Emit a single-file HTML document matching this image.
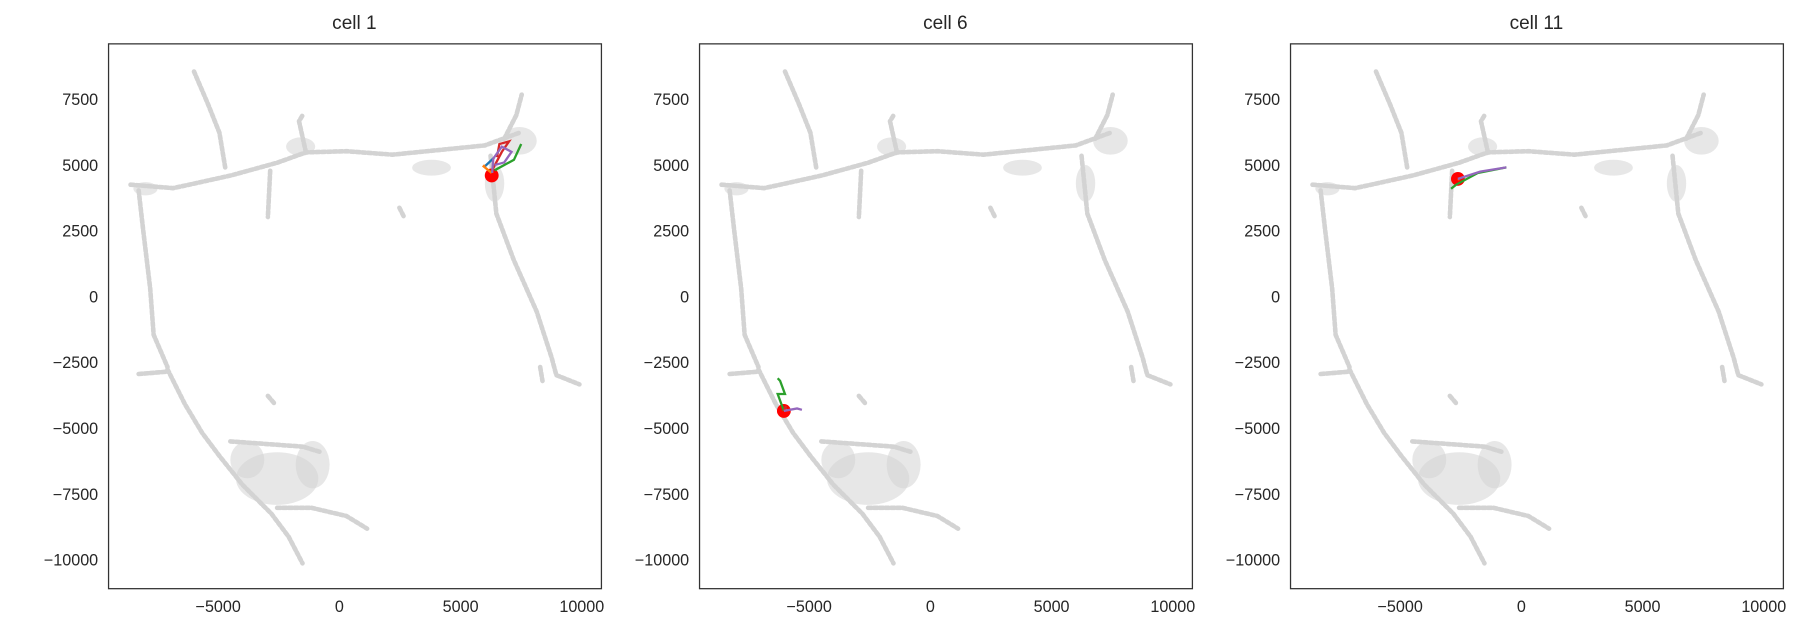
<!DOCTYPE html>
<html><head><meta charset="utf-8"><style>
body{margin:0;background:#fff;}
text{font-family:"Liberation Sans","DejaVu Sans",sans-serif;fill:#262626;}
</style></head><body>
<svg id="chart" width="1810" height="636" viewBox="0 0 1568 551" xmlns="http://www.w3.org/2000/svg"></svg>
<script>
// background embedding skeleton (data units)
const branchTop=[[-8616,4254],[-6854,4123],[-4474,4605],[-2570,5088],[-1380,5482],[286,5526],[2190,5395],[4094,5570],[5998,5746],[7426,6228]];
const branchUpRight=[[6800,6000],[7300,6900],[7521,7676]];
const branchY=[[-1380,5482],[-1666,6667],[-1523,6886]];
const branchUpLeft=[[-4712,4912],[-4950,6228],[-5426,7325],[-5998,8553]];
const branchSmallDown=[[-2856,4781],[-2951,3026]];
const branchRight=[[6236,5351],[6474,3158],[7188,1404],[8140,-570],[8758,-2325],[8949,-2983],[9901,-3333]];
const branchRightTip=[[8282,-2675],[8378,-3202]];
const branchLeft=[[-8282,4035],[-8092,2500],[-7806,307],[-7664,-1447],[-7092,-2675]];
const branchLeftTip=[[-8282,-2939],[-7092,-2850]];
const branchDown=[[-7092,-2763],[-6378,-4079],[-5664,-5175],[-4950,-6053],[-3998,-7149],[-2808,-8246],[-2094,-9123],[-1523,-10132]];
const branchBottomRight=[[-2570,-8026],[-1142,-8026],[286,-8334],[1142,-8816]];
const branchBottomUp=[[-4500,-5500],[-3000,-5600],[-1500,-5700],[-800,-5900]];
const branchIso1=[[-2951,-3772],[-2666,-4079]];
const branchIso2=[[2475,3377],[2666,3026]];
const branches=[branchTop,branchUpRight,branchY,branchUpLeft,branchSmallDown,branchRight,branchRightTip,branchLeft,branchLeftTip,branchDown,branchBottomRight,branchBottomUp,branchIso1,branchIso2];
// dense clusters: [cx, cy, rx, ry] in data units
const clusters=[[7426,5921,714,526],[-2570,-6911,1700,1000],[-1104,-6384,700,900],[-3800,-6200,700,700],[6400,4300,400,700],[-1600,5700,600,350],[-8000,4100,500,250],[3800,4900,800,300]];
const titles=["cell 1","cell 6","cell 11"];
const starts=[[6283,4605],[-6045,-4342],[-2618,4474]];
const trajColors=["#1f77b4","#ff7f0e","#2ca02c","#d62728","#9467bd"];
const traj=[
 [[[6000,4950],[6400,5300]],[[6000,5000],[5950,4950],[6283,4700]],[[6400,4800],[7200,5200],[7500,5800]],[[6300,4800],[6700,5500],[7000,5900],[6600,5800],[6500,5300]],[[6300,4700],[6350,5250],[6700,5700],[7100,5500],[6800,5100],[6400,5000]]],
 [[[-6045,-4342],[-5900,-4300]],[[-6045,-4342],[-5950,-4250]],[[-6045,-4342],[-6300,-3700],[-6000,-3700],[-6200,-3200],[-6300,-3100]],[[-6045,-4342],[-5950,-4150]],[[-6045,-4342],[-5500,-4250],[-5300,-4300]]],
 [[[-2618,4474],[-2500,4500]],[[-2618,4474],[-2550,4450]],[[-2900,4100],[-2700,4250],[-1800,4700],[-619,4912]],[[-2618,4474],[-2500,4500]],[[-2618,4474],[-1700,4750],[-619,4912]]]
];
const xTicks=[-5000,0,5000,10000];
const yTicks=[7500,5000,2500,0,-2500,-5000,-7500,-10000];

const svg=document.getElementById('chart');
const NS="http://www.w3.org/2000/svg";
const offsets=[0,512,1024];
function mk(tag,attrs,parent){const e=document.createElementNS(NS,tag);for(const k in attrs)e.setAttribute(k,attrs[k]);(parent||svg).appendChild(e);return e;}
function fmt(v){return v<0?"\u2212"+Math.abs(v):String(v);}
offsets.forEach((ox,i)=>{
 const sx=d=>ox+294+d*0.021;
 const sy=d=>257-d*0.0228;
 const g=mk('g',{});
 
 
 const t=mk('text',{x:ox+307,y:25,'text-anchor':'middle','font-size':16.5},g);
 t.textContent=titles[i];
 
 
 clusters.forEach(c=>{
  const e=mk('ellipse',{cx:sx(c[0]),cy:sy(c[1]),rx:c[2]*0.021,ry:c[3]*0.0228,fill:'#d3d3d3','fill-opacity':0.55},g);
  
  
 });
 branches.forEach(b=>{
  const p=mk('polyline',{points:b.map(q=>sx(q[0])+','+sy(q[1])).join(' '),fill:'none',stroke:'#d3d3d3','stroke-width':4,'stroke-dasharray':'3 2','stroke-linecap':'round','stroke-linejoin':'round'},g);
  
  
 });
 const s=starts[i];
 const dot=mk('circle',{cx:sx(s[0]),cy:sy(s[1]),r:6,fill:'#ff0000'},g);
 
 
 traj[i].forEach((tr,j)=>{
  const p=mk('polyline',{points:tr.map(q=>sx(q[0])+','+sy(q[1])).join(' '),fill:'none',stroke:trajColors[j],'stroke-width':2},g);
  
  
 });
 const fr=mk('rect',{x:ox+94,y:38,width:427,height:472,fill:'none',stroke:'#333','stroke-width':1.1},g);
 
 
 xTicks.forEach(v=>{
  const tx=mk('text',{x:sx(v),y:530,'text-anchor':'middle','font-size':14},g);
  tx.textContent=fmt(v);
  
  
 });
 yTicks.forEach(v=>{
  const ty=mk('text',{x:ox+85,y:sy(v)+5,'text-anchor':'end','font-size':14},g);
  ty.textContent=fmt(v);
  
  
 });
});
</script>
</body></html>
